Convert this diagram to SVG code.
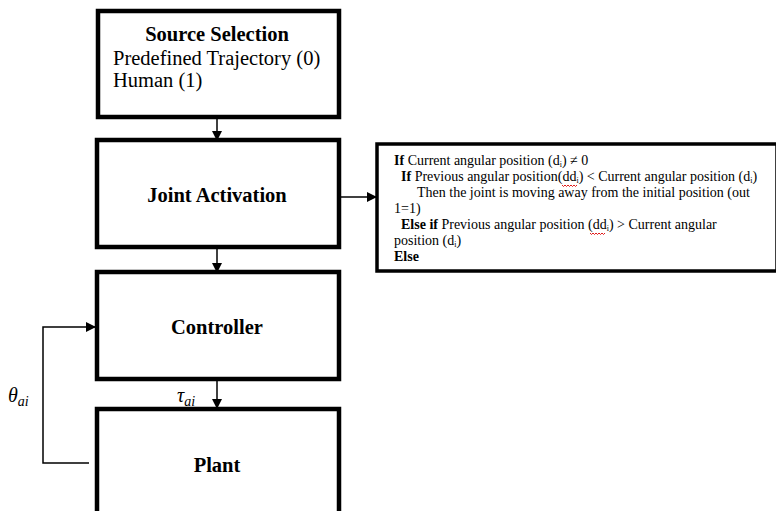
<svg xmlns="http://www.w3.org/2000/svg" width="776" height="511" viewBox="0 0 776 511">
<defs>
<marker id="ah" markerWidth="10" markerHeight="10" refX="9" refY="5" orient="auto" markerUnits="userSpaceOnUse">
<path d="M0,0 L10,5 L0,10 Z" fill="#000"/>
</marker>
<style>
.box{fill:#fff;stroke:#000;stroke-width:4.5}
.tbox{fill:#fff;stroke:#000;stroke-width:3.5}
.ln{fill:none;stroke:#000;stroke-width:1.5}
.t{font-family:"Liberation Serif",serif;fill:#000}
.h{font-size:20.5px;font-weight:bold}
.b{font-size:20.5px}
.s{font-size:14px}
.m{font-family:"Liberation Serif",serif;font-style:italic;font-size:20px}
.sq{fill:none;stroke:#d00;stroke-width:0.9}
</style>
</defs>
<g id="connectors">
<line class="ln" x1="217" y1="117" x2="217" y2="140" marker-end="url(#ah)"/>
<line class="ln" x1="217" y1="247" x2="217" y2="272" marker-end="url(#ah)"/>
<line class="ln" x1="217" y1="379" x2="217" y2="408" marker-end="url(#ah)"/>
<line class="ln" x1="339" y1="197" x2="376" y2="197" marker-end="url(#ah)"/>
<polyline class="ln" points="89,463 43,463 43,327 95,327" marker-end="url(#ah)"/>
</g>
<g id="source">
<rect class="box" x="98" y="11" width="241" height="106"/>
<text class="t h" x="217" y="41" text-anchor="middle">Source Selection</text>
<text class="t b" x="113" y="65">Predefined Trajectory (0)</text>
<text class="t b" x="113" y="87">Human (1)</text>
</g>
<g id="joint">
<rect class="box" x="97" y="140" width="242" height="107"/>
<text class="t h" x="217" y="202" text-anchor="middle">Joint Activation</text>
</g>
<g id="rules">
<rect class="tbox" x="377" y="144" width="400" height="127"/>
<text class="t s" x="394" y="165"><tspan font-weight="bold">If</tspan> Current angular position (d<tspan font-size="8" baseline-shift="-2">i</tspan>) ≠ 0</text>
<text class="t s" x="401" y="181"><tspan font-weight="bold">If</tspan> Previous angular position(dd<tspan font-size="8" baseline-shift="-2">i</tspan>) &lt; Current angular position (d<tspan font-size="8" baseline-shift="-2">i</tspan>)</text>
<text class="t s" x="417" y="197">Then the joint is moving away from the initial position (out</text>
<text class="t s" x="394" y="213">1=1)</text>
<text class="t s" x="401" y="229"><tspan font-weight="bold">Else if</tspan> Previous angular position (dd<tspan font-size="8" baseline-shift="-2">i</tspan>) &gt; Current angular</text>
<text class="t s" x="394" y="245">position (d<tspan font-size="8" baseline-shift="-2">i</tspan>)</text>
<text class="t s" x="394" y="261" font-weight="bold">Else</text>
<path class="sq" d="M562,185 l1.5,1.5 l1.5,-1.5 l1.5,1.5 l1.5,-1.5 l1.5,1.5 l1.5,-1.5 l1.5,1.5 l1.5,-1.5 l1.5,1.5 l1.5,-1.5"/>
<path class="sq" d="M590,233 l1.5,1.5 l1.5,-1.5 l1.5,1.5 l1.5,-1.5 l1.5,1.5 l1.5,-1.5 l1.5,1.5 l1.5,-1.5 l1.5,1.5 l1.5,-1.5"/>
</g>
<g id="controller">
<rect class="box" x="97" y="272" width="242" height="107"/>
<text class="t h" x="217" y="334" text-anchor="middle">Controller</text>
</g>
<g id="plant">
<rect class="box" x="97" y="409" width="242" height="110"/>
<text class="t h" x="217" y="472" text-anchor="middle">Plant</text>
</g>
<g id="labels">
<text class="m" x="8" y="402">θ<tspan font-size="14" baseline-shift="-4">ai</tspan></text>
<text class="m" x="177" y="402">τ<tspan font-size="14" baseline-shift="-4">ai</tspan></text>
</g>
</svg>
